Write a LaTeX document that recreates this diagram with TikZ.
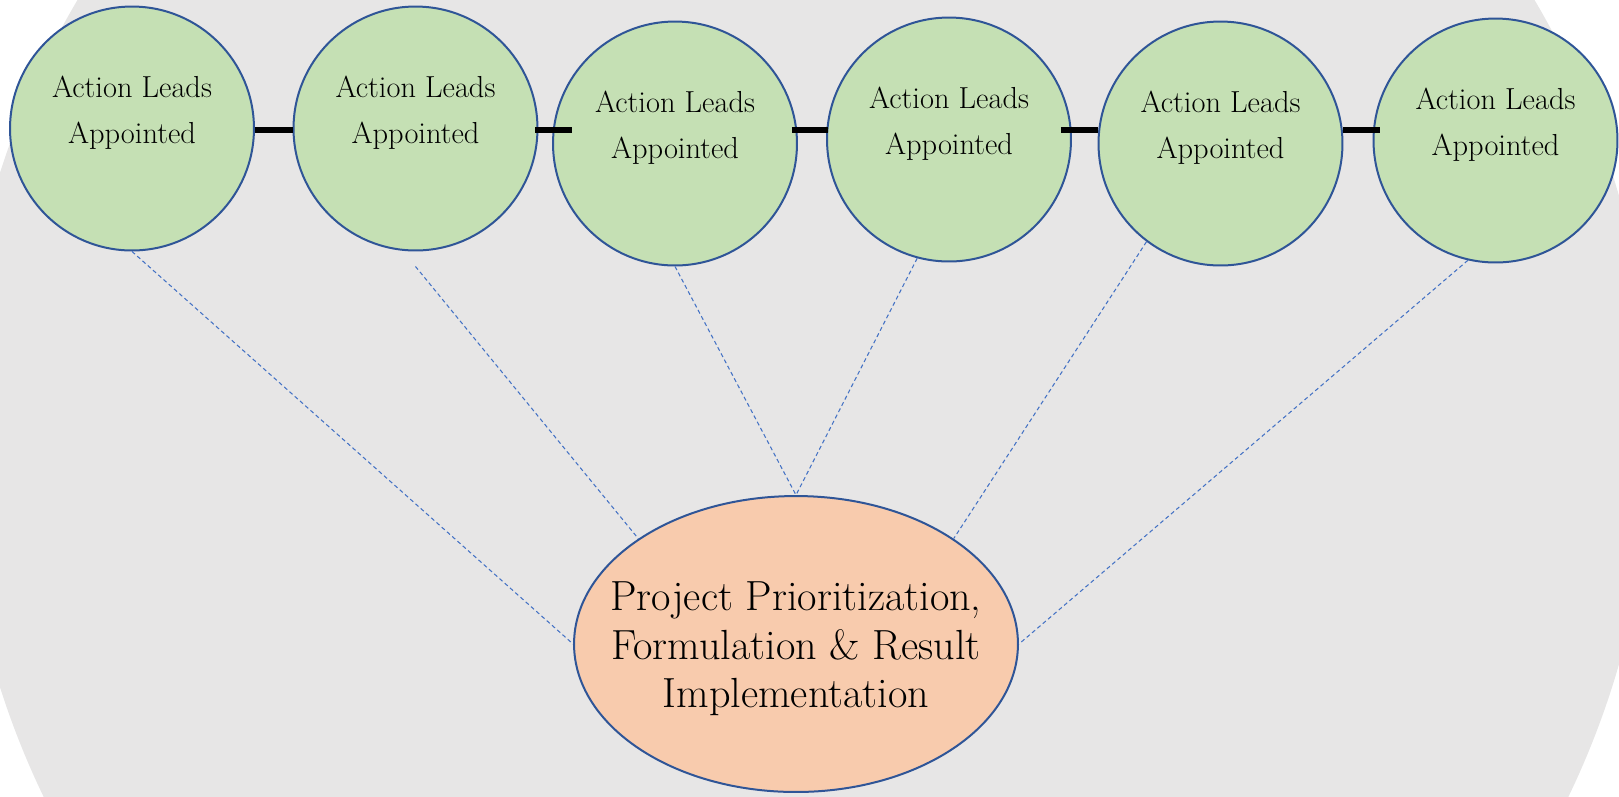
\documentclass[tikz,border=0pt]{standalone}
\usepackage{fontspec}
\usetikzlibrary{shapes.geometric}
\definecolor{bggrey}{HTML}{E7E6E6}
\definecolor{leafgreen}{HTML}{C5E0B4}
\definecolor{rimblue}{HTML}{2F5597}
\definecolor{peach}{HTML}{F8CBAD}
\definecolor{dashblue}{HTML}{4472C4}
\tikzset{
  lead/.style={circle, draw=rimblue, fill=leafgreen, line width=0.04cm,
    minimum size=4.88cm, inner sep=0pt,
    label={[align=center, font=\fontsize{17.3}{26}\selectfont, yshift=0.32cm]center:Action Leads\\Appointed}},
  hub/.style={ellipse, draw=rimblue, fill=peach, line width=0.04cm,
    minimum width=8.88cm, minimum height=5.92cm, inner sep=0pt},
  hubtext/.style={align=center, font=\fontsize{24}{27.5}\selectfont, yshift=-0.1cm},
  bar/.style={line width=0.12cm, black},
  dashlink/.style={draw=dashblue, line width=0.6pt, dash pattern=on 2.3pt off 1.7pt}
}
\begin{document}
\begin{tikzpicture}[x=0.02cm, y=-0.02cm]
  \useasboundingbox (0,0) rectangle (1619,796);
  \begin{scope}
    \clip (0,0) rectangle (1619,796);
    \fill[bggrey] (806,430) circle[radius=16.92cm];
  \end{scope}
  \coordinate (row) at (0,130);
  \node[lead] (c1) at (132,128.5) {};
  \node[lead] (c2) at (415.5,128.5) {};
  \node[lead] (c3) at (675,143.5) {};
  \node[lead] (c4) at (949,139.5) {};
  \node[lead] (c5) at (1220.5,143.5) {};
  \node[lead] (c6) at (1495.5,140.5) {};
  \node[hub, label={[hubtext]center:Project Prioritization,\\Formulation \& Result\\Implementation}] (e) at (796,644) {};
  % bars
  \draw[bar] (c1.east |- row) -- (c2.west |- row);
  \draw[bar, shorten <=-0.06cm, shorten >=-0.4cm] (c2.east |- row) -- (c3.west |- row);
  \draw[bar, shorten <=-0.12cm, shorten >=-0.04cm] (c3.east |- row) -- (c4.west |- row);
  \draw[bar, shorten <=-0.22cm] (c4.east |- row) -- (c5.west |- row);
  \draw[bar, shorten >=-0.14cm] (c5.east |- row) -- (c6.west |- row);
  % dashed links
  \draw[dashlink] (c1.south) -- (e.west);
  \draw[dashlink] ([yshift=-0.3cm]c2.south) -- (e.north west);
  \draw[dashlink] (c3.south) -- (e.north);
  \draw[dashlink] (c4.255) -- (e.north);
  \draw[dashlink] (c5.233) -- (e.north east);
  \draw[dashlink] (c6.257) -- (e.east);
\end{tikzpicture}
\end{document}
